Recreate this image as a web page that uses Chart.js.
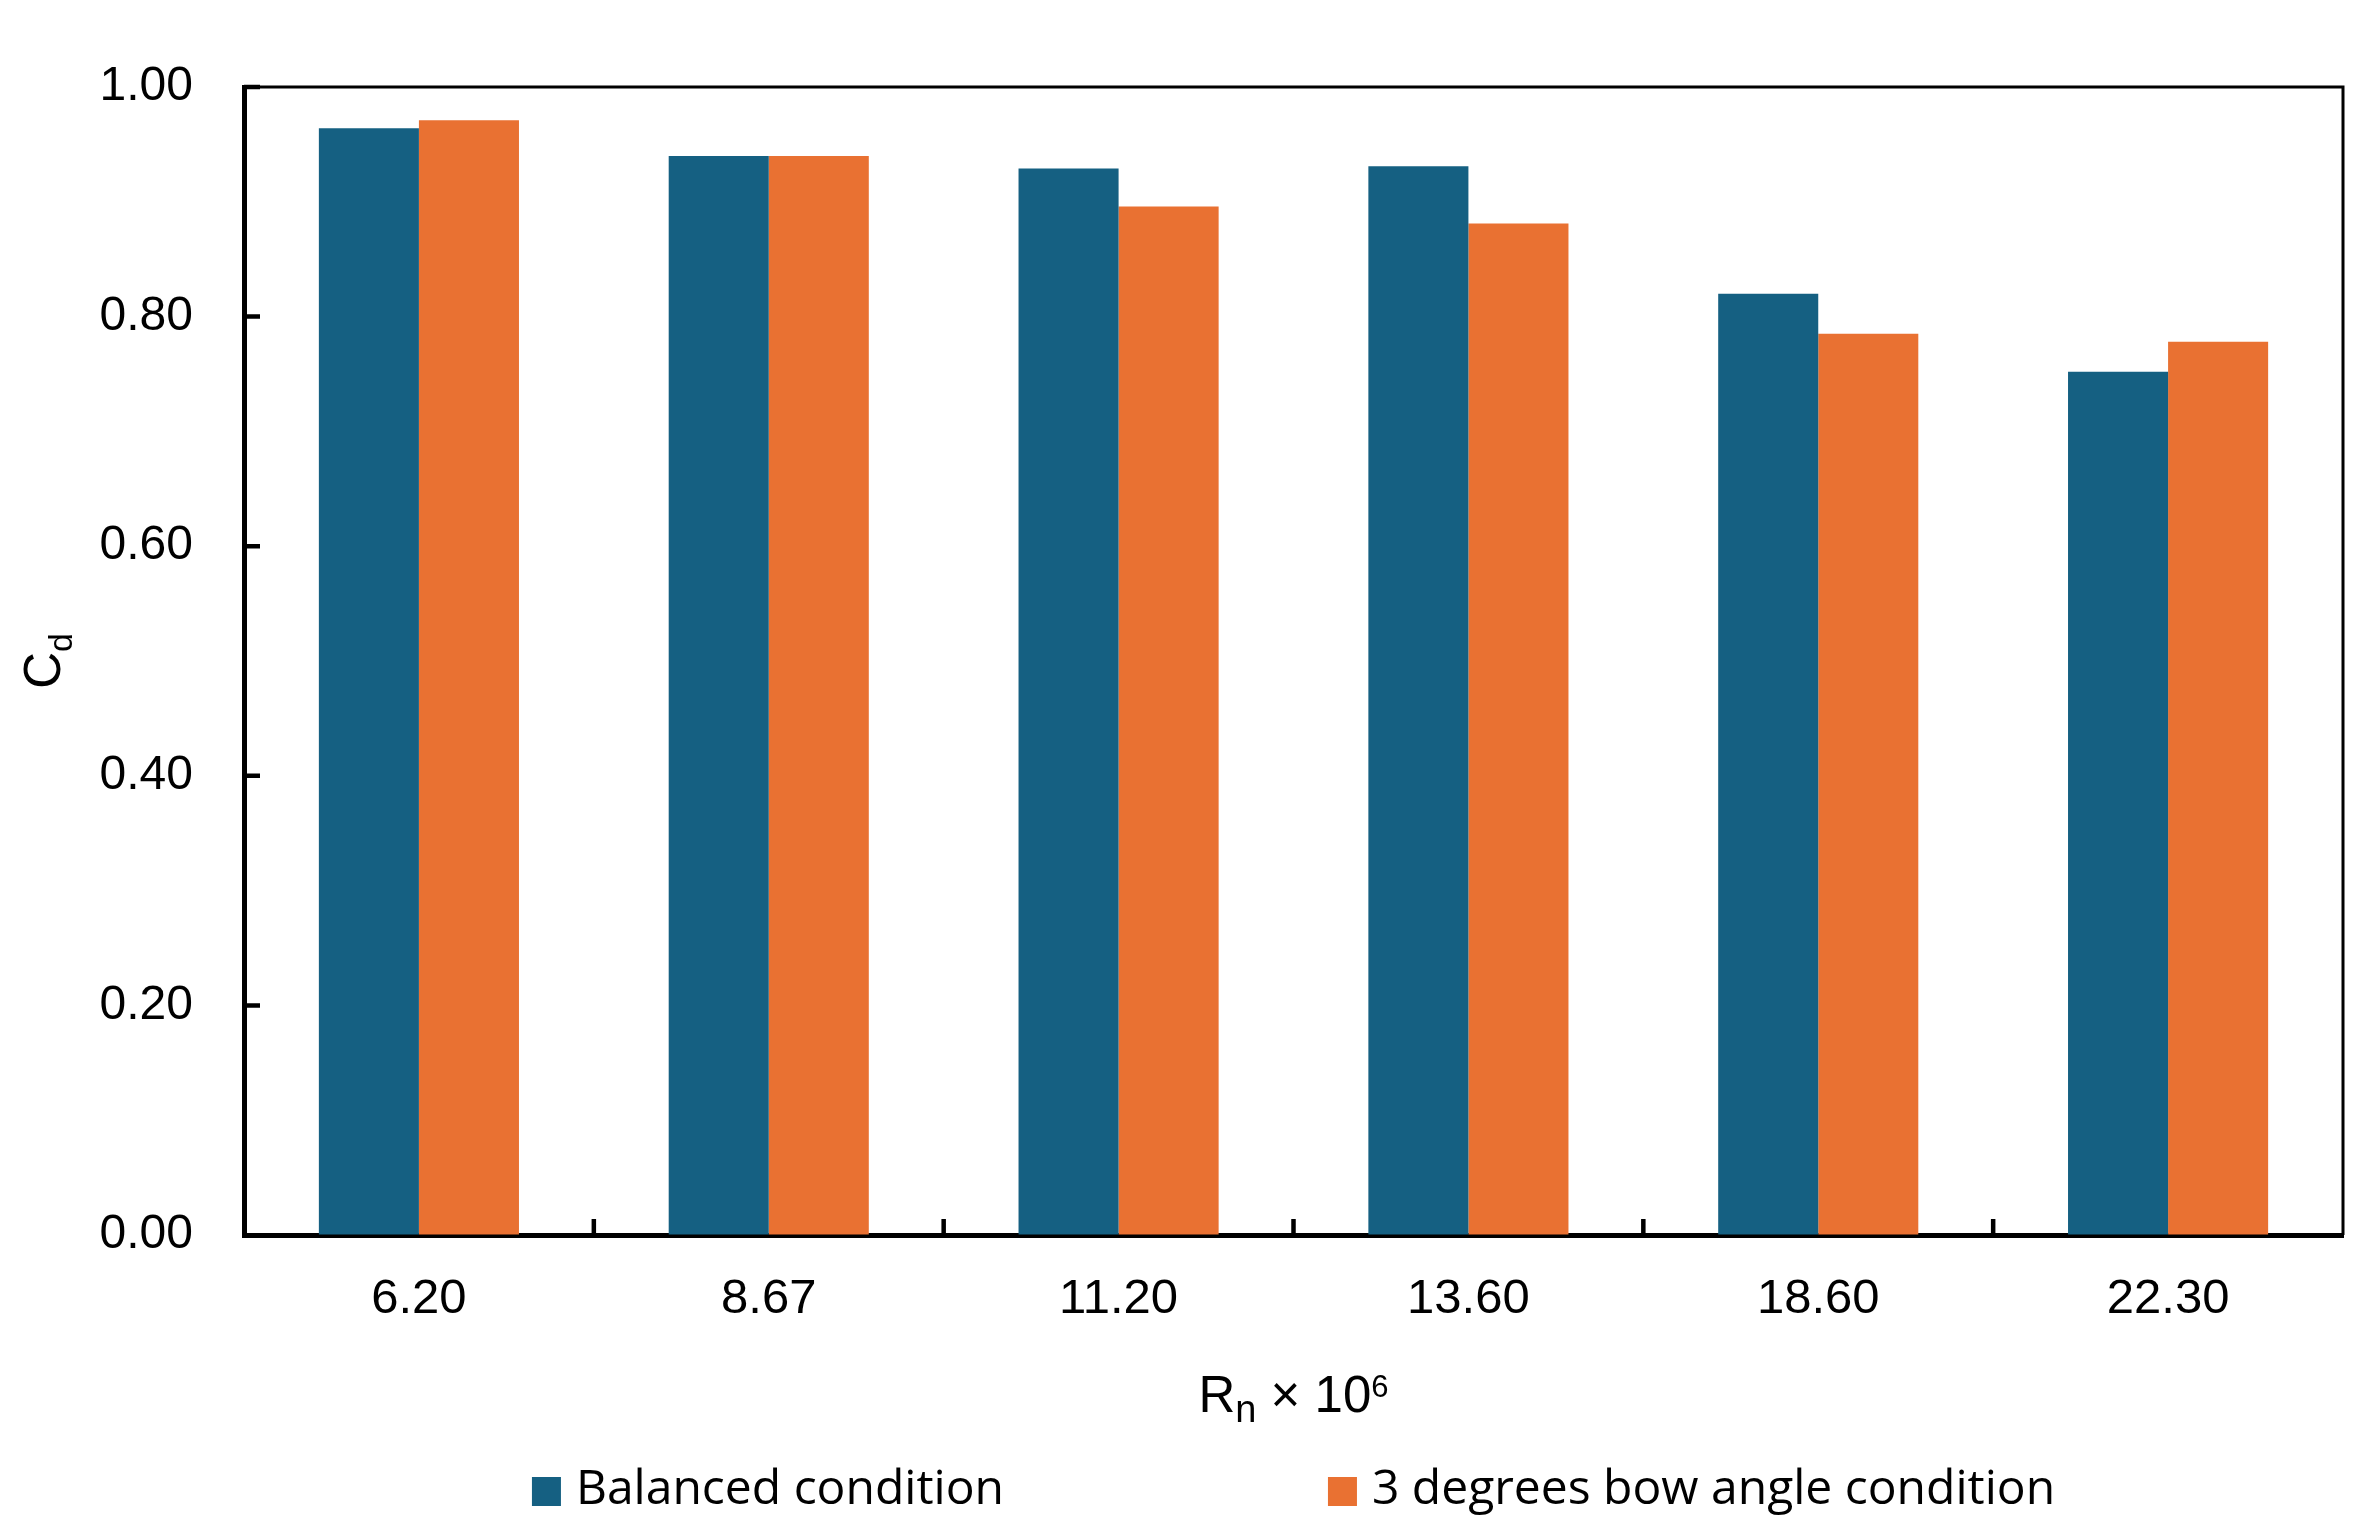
<!DOCTYPE html>
<html>
<head>
<meta charset="utf-8">
<script src="https://cdn.jsdelivr.net/npm/chart.js@4.4.1/dist/chart.umd.min.js"></script>
<style>
html,body{margin:0;padding:0;background:#ffffff;overflow:hidden}
#wrap{width:2379px;height:1536px;position:relative}
</style>
</head>
<body>
<div id="wrap"><canvas id="c"></canvas></div>
<script>
// ---- data ----
const categories = ['6.20', '8.67', '11.20', '13.60', '18.60', '22.30'];
const balanced   = [0.964, 0.940, 0.929, 0.931, 0.820, 0.752];
const bowAngle   = [0.971, 0.940, 0.896, 0.881, 0.785, 0.778];
const seriesNames = ['Balanced condition', '3 degrees bow angle condition'];
const yTickValues = [0, 0.2, 0.4, 0.6, 0.8, 1.0];

const COLORS = ['#156082', '#E97132'];
const AXIS_FONT = '"Liberation Sans", Arial, sans-serif';
const LEGEND_FONT = '"Open Sans", "Liberation Sans", sans-serif';

function drawRich(ctx, parts, x0, baseY) {
  let x = x0;
  parts.forEach(p => {
    ctx.font = p.size + 'px ' + AXIS_FONT;
    ctx.fillText(p.t, x, baseY + p.dy);
    x += ctx.measureText(p.t).width;
  });
}
function richWidth(ctx, parts) {
  let w = 0;
  parts.forEach(p => { ctx.font = p.size + 'px ' + AXIS_FONT; w += ctx.measureText(p.t).width; });
  return w;
}

const decorPlugin = {
  id: 'decor',
  afterDraw(chart) {
    const ctx = chart.ctx;
    const a = chart.chartArea;
    const xs = chart.scales.x, ys = chart.scales.y;
    ctx.save();
    // top & right frame
    ctx.strokeStyle = '#000';
    ctx.lineWidth = 3;
    ctx.beginPath();
    ctx.moveTo(a.left, a.top);
    ctx.lineTo(a.right, a.top);
    ctx.lineTo(a.right, a.bottom);
    ctx.stroke();
    // inward y ticks
    ctx.lineWidth = 4.5;
    ctx.beginPath();
    yTickValues.forEach(v => {
      if (v === 0) return;
      const y = ys.getPixelForValue(v);
      ctx.moveTo(a.left, y);
      ctx.lineTo(a.left + 16, y);
    });
    // inward x ticks at category boundaries
    for (let i = 1; i < categories.length; i++) {
      const x = (xs.getPixelForValue(i - 1) + xs.getPixelForValue(i)) / 2;
      ctx.moveTo(x, a.bottom);
      ctx.lineTo(x, a.bottom - 16);
    }
    ctx.stroke();

    ctx.fillStyle = '#000';
    ctx.textAlign = 'left';
    ctx.textBaseline = 'alphabetic';
    // x-axis title: R_n x 10^6
    const xParts = [
      {t: 'R', size: 51, dy: 0},
      {t: 'n', size: 38, dy: 10},
      {t: ' \u00D7 10', size: 51, dy: 0},
      {t: '6', size: 31, dy: -15}
    ];
    const cx = (a.left + a.right) / 2;
    drawRich(ctx, xParts, cx - richWidth(ctx, xParts) / 2, 1412);

    // y-axis title: C_d (rotated)
    const yParts = [
      {t: 'C', size: 51, dy: 0},
      {t: 'd', size: 34, dy: 12}
    ];
    const cy = (a.top + a.bottom) / 2;
    ctx.save();
    ctx.translate(60, cy);
    ctx.rotate(-Math.PI / 2);
    drawRich(ctx, yParts, -richWidth(ctx, yParts) / 2, 0);
    ctx.restore();

    // legend
    ctx.font = '48px ' + LEGEND_FONT;
    const box = 29, gapBT = 15, gapItems = 324;
    const w1 = ctx.measureText(seriesNames[0]).width;
    const w2 = ctx.measureText(seriesNames[1]).width;
    const total = box + gapBT + w1 + gapItems + box + gapBT + w2;
    let lx = cx - total / 2;
    const boxTop = 1477, textBase = 1504;
    [0, 1].forEach(i => {
      ctx.fillStyle = COLORS[i];
      ctx.fillRect(lx, boxTop, box, box);
      ctx.fillStyle = '#000';
      ctx.fillText(seriesNames[i], lx + box + gapBT, textBase);
      lx += box + gapBT + (i === 0 ? w1 : w2) + gapItems;
    });
    ctx.restore();
  }
};

new Chart(document.getElementById('c'), {
  type: 'bar',
  data: {
    labels: categories,
    datasets: [
      {label: seriesNames[0], data: balanced, backgroundColor: COLORS[0], borderWidth: 0,
       categoryPercentage: 0.572, barPercentage: 1.0},
      {label: seriesNames[1], data: bowAngle, backgroundColor: COLORS[1], borderWidth: 0,
       categoryPercentage: 0.572, barPercentage: 1.0}
    ]
  },
  options: {
    responsive: true,
    maintainAspectRatio: false,
    devicePixelRatio: 1,
    animation: false,
    layout: {padding: {left: 0, right: 36, top: 87, bottom: 0}},
    plugins: {
      legend: {display: false},
      tooltip: {enabled: false},
      title: {display: false}
    },
    scales: {
      x: {
        type: 'category',
        grid: {drawOnChartArea: false, drawTicks: false},
        border: {display: true, width: 5, color: '#000'},
        ticks: {color: '#000', font: {family: AXIS_FONT, size: 49}, padding: 35, maxRotation: 0, autoSkip: false},
        afterFit(s) { s.height = 301; }
      },
      y: {
        min: 0, max: 1,
        grid: {drawOnChartArea: false, drawTicks: false},
        border: {display: true, width: 5, color: '#000'},
        ticks: {
          stepSize: 0.2, color: '#000', font: {family: AXIS_FONT, size: 48}, padding: 51,
          callback: v => Number(v).toFixed(2)
        },
        afterFit(s) { s.width = 244; }
      }
    }
  },
  plugins: [decorPlugin]
});
</script>
</body>
</html>
